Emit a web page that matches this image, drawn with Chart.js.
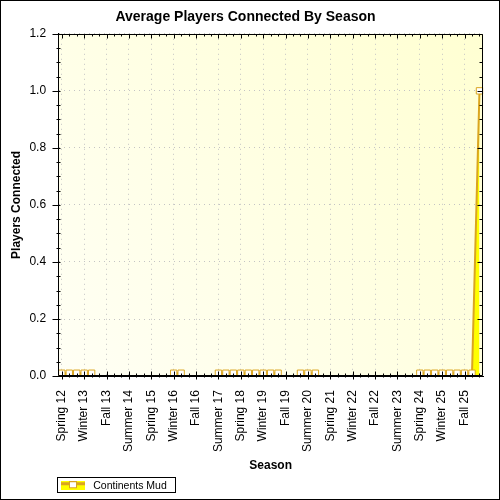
<!DOCTYPE html>
<html>
<head>
<meta charset="utf-8">
<script src="https://cdn.jsdelivr.net/npm/chart.js@4.4.1/dist/chart.umd.min.js"></script>
<style>
  html, body { margin: 0; padding: 0; background: #fff; }
  #wrap { width: 500px; height: 500px; }
</style>
</head>
<body>
<div id="wrap"><canvas id="seasonChart" width="500" height="500"></canvas></div>
<script>
// categories, one per season
const seasons = [
  'Spring 12', 'Summer 12', 'Fall 12', 'Winter 13',
  'Spring 13', 'Summer 13', 'Fall 13', 'Winter 14',
  'Spring 14', 'Summer 14', 'Fall 14', 'Winter 15',
  'Spring 15', 'Summer 15', 'Fall 15', 'Winter 16',
  'Spring 16', 'Summer 16', 'Fall 16', 'Winter 17',
  'Spring 17', 'Summer 17', 'Fall 17', 'Winter 18',
  'Spring 18', 'Summer 18', 'Fall 18', 'Winter 19',
  'Spring 19', 'Summer 19', 'Fall 19', 'Winter 20',
  'Spring 20', 'Summer 20', 'Fall 20', 'Winter 21',
  'Spring 21', 'Summer 21', 'Fall 21', 'Winter 22',
  'Spring 22', 'Summer 22', 'Fall 22', 'Winter 23',
  'Spring 23', 'Summer 23', 'Fall 23', 'Winter 24',
  'Spring 24', 'Summer 24', 'Fall 24', 'Winter 25',
  'Spring 25', 'Summer 25', 'Fall 25', 'Winter 26',
  'Spring 26'
];

// average players per season (null = no data that season)
const continentsMud = [
  0.01, 0.01, 0.01, 0.01,
  0.01, null, null, null,
  null, null, null, null,
  null, null, null, 0.01,
  0.01, null, null, null,
  null, 0.01, 0.01, 0.01,
  0.01, 0.01, 0.01, 0.01,
  0.01, 0.01, null, null,
  0.01, 0.01, 0.01, null,
  null, null, null, null,
  null, null, null, null,
  null, null, null, null,
  0.01, 0.01, 0.01, 0.01,
  0.01, 0.01, 0.01, 0.01,
  1.0
];

const seriesName = 'Continents Mud';
const yMin = 0;
const yMax = 1.2;
const yStep = 0.2;
const labelEvery = 3;

// small picture used as the legend symbol (24px symbol + 3px gap)
const legendSymbol = document.createElement('canvas');
legendSymbol.width = 27;
legendSymbol.height = 9;
const sctx = legendSymbol.getContext('2d');
sctx.fillStyle = '#ffff00';
sctx.fillRect(0, 0, 24, 9);
sctx.fillStyle = '#daa520';
sctx.fillRect(0, 1, 24, 3);
sctx.fillStyle = '#ffffff';
sctx.fillRect(9, 0, 6, 6);
sctx.strokeStyle = '#daa520';
sctx.lineWidth = 1;
sctx.strokeRect(8.5, 0.5, 7, 6);

const legendFont = { family: 'Liberation Sans', size: 10.5 };

// plot background, frame with inner tick marks, borders
const plotFrame = {
  id: 'plotFrame',
  afterLayout(chart) {
    // legend sits under the plot, lined up with the y axis
    const lg = chart.legend;
    if (lg) {
      lg.left += 52;
      lg.right += 52;
      lg.top += 3;
      lg.bottom += 3;
      lg.adjustHitBoxes();
    }
  },
  beforeDraw(chart) {
    const { ctx, chartArea: a } = chart;
    ctx.save();
    ctx.fillStyle = '#ffffff';
    ctx.fillRect(0, 0, chart.width, chart.height);
    const g = ctx.createLinearGradient(a.right, a.top, a.left, a.bottom);
    g.addColorStop(0, '#ffffd2');
    g.addColorStop(1, '#fffff5');
    ctx.fillStyle = g;
    ctx.fillRect(a.left, a.top, a.right - a.left, a.bottom - a.top);
    ctx.restore();
  },
  afterDatasetsDraw(chart) {
    const { ctx, chartArea: a, scales: { x, y } } = chart;
    const L = Math.round(a.left) + 0.5;
    const R = Math.round(a.right) - 0.5;
    const T = Math.round(a.top) + 0.5;
    const B = Math.round(a.bottom) - 0.5;
    ctx.save();
    ctx.strokeStyle = '#000';
    ctx.lineWidth = 1;
    ctx.beginPath();
    ctx.rect(L, T, R - L, B - T);
    for (let i = 0; i < seasons.length; i++) {
      const px = Math.round(x.getPixelForValue(i)) + 0.5;
      const len = i % labelEvery === 0 ? 4 : 2;
      ctx.moveTo(px, B - len); ctx.lineTo(px, B + len);
      ctx.moveTo(px, T); ctx.lineTo(px, T + len);
    }
    for (let k = 0; k <= 24; k++) {
      const py = Math.round(y.getPixelForValue(k * 0.05)) + 0.5;
      const major = k % 4 === 0;
      ctx.moveTo(L - (major ? 6 : 2), py); ctx.lineTo(L + 2, py);
      ctx.moveTo(R - (major ? 5 : 3), py); ctx.lineTo(R, py);
    }
    ctx.stroke();
    ctx.restore();
  },
  afterDraw(chart) {
    const { ctx } = chart;
    ctx.save();
    ctx.strokeStyle = '#000';
    ctx.lineWidth = 1;
    const lg = chart.legend;
    if (lg) {
      const pad = lg.options.labels.padding;
      const x0 = Math.round(lg.left + pad);
      const fs = legendFont.size;
      const cy = Math.round(lg.top + pad + fs / 2);
      ctx.font = fs + 'px ' + legendFont.family;
      const tw = ctx.measureText(seriesName).width;
      const x1 = Math.round(x0 + 27 + fs / 2 + tw + 9);
      ctx.strokeRect(x0 - 3.5, cy - 8.5, x1 - x0 + 3, 15);
    }
    ctx.strokeRect(0.5, 0.5, chart.width - 1, chart.height - 1);
    ctx.restore();
  }
};

const ctx = document.getElementById('seasonChart').getContext('2d');
new Chart(ctx, {
  type: 'line',
  data: {
    labels: seasons,
    datasets: [{
      label: seriesName,
      data: continentsMud,
      borderColor: '#daa520',
      borderWidth: 2,
      backgroundColor: '#ffff00',
      fill: 'origin',
      spanGaps: false,
      tension: 0,
      pointStyle: 'rect',
      pointRadius: 4.5,
      pointBorderWidth: 1,
      pointBorderColor: '#daa520',
      pointBackgroundColor: '#ffffff'
    }]
  },
  options: {
    responsive: false,
    animation: false,
    layout: { padding: { left: 5, right: 14, top: 0, bottom: 2 } },
    plugins: {
      title: {
        display: true,
        text: 'Average Players Connected By Season',
        color: '#000',
        font: { family: 'Liberation Sans', size: 14, weight: 'bold' },
        padding: { top: 9, bottom: 8 }
      },
      legend: {
        display: true,
        position: 'bottom',
        align: 'start',
        labels: {
          color: '#000',
          font: legendFont,
          usePointStyle: true,
          pointStyleWidth: 27,
          boxHeight: 9,
          padding: 4,
          generateLabels: (chart) => [{
            text: chart.data.datasets[0].label,
            pointStyle: legendSymbol,
            fillStyle: 'transparent',
            strokeStyle: 'transparent',
            lineWidth: 0,
            hidden: false,
            datasetIndex: 0
          }]
        }
      },
      tooltip: { enabled: false }
    },
    scales: {
      x: {
        type: 'category',
        offset: true,
        title: {
          display: true,
          text: 'Season',
          color: '#000',
          font: { family: 'Liberation Sans', size: 12, weight: 'bold' },
          padding: { top: 0, bottom: 1 }
        },
        ticks: {
          autoSkip: false,
          minRotation: 90,
          maxRotation: 90,
          padding: 6,
          color: '#000',
          font: { family: 'Liberation Sans', size: 12 },
          callback: (value, index) => index % labelEvery === 0 ? seasons[index] : ''
        },
        grid: {
          color: (c) => c.index % labelEvery === 0 ? '#c4c4c4' : 'transparent',
          tickColor: 'transparent',
          tickLength: 8,
          lineWidth: 1
        },
        border: { display: true, color: '#000', dash: [1, 4] }
      },
      y: {
        min: yMin,
        max: yMax,
        title: {
          display: true,
          text: 'Players Connected',
          color: '#000',
          font: { family: 'Liberation Sans', size: 12, weight: 'bold' },
          padding: { top: 4, bottom: 0 }
        },
        ticks: {
          stepSize: yStep,
          padding: 6,
          color: '#000',
          font: { family: 'Liberation Sans', size: 12 },
          callback: (v) => Number(v).toFixed(1)
        },
        grid: {
          color: '#c4c4c4',
          tickColor: 'transparent',
          tickLength: 6,
          lineWidth: 1
        },
        border: { display: true, color: '#000', dash: [1, 4] }
      }
    }
  },
  plugins: [plotFrame]
});
</script>
</body>
</html>
